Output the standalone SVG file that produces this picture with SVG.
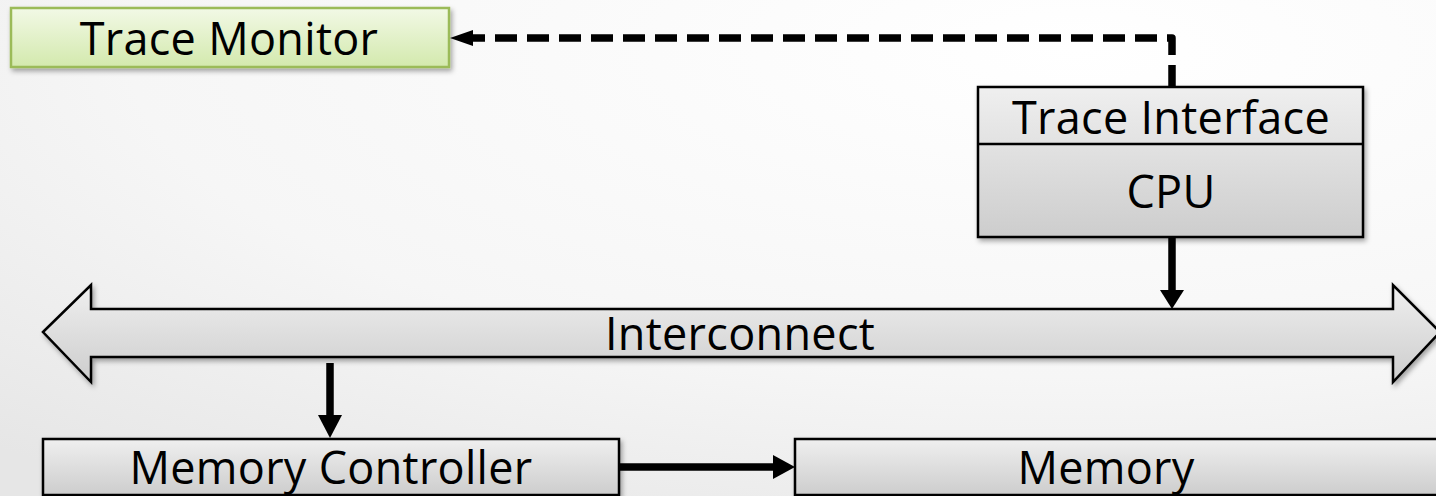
<svg xmlns="http://www.w3.org/2000/svg" width="1436" height="496" viewBox="0 0 1436 496">
  <defs>
    <radialGradient id="bg" cx="0.75" cy="0.1" r="1.1">
      <stop offset="0" stop-color="#ffffff"/>
      <stop offset="0.6" stop-color="#f6f6f6"/>
      <stop offset="1" stop-color="#e6e6e6"/>
    </radialGradient>
    <linearGradient id="gray" x1="0" y1="0" x2="0" y2="1">
      <stop offset="0" stop-color="#efefef"/>
      <stop offset="1" stop-color="#cdcdcd"/>
    </linearGradient>
    <linearGradient id="green" x1="0" y1="0" x2="0" y2="1">
      <stop offset="0" stop-color="#f2f9e6"/>
      <stop offset="1" stop-color="#d3e9ad"/>
    </linearGradient>
    <filter id="sh" x="-10%" y="-20%" width="120%" height="160%">
      <feDropShadow dx="2" dy="3" stdDeviation="2.5" flood-color="#000" flood-opacity="0.35"/>
    </filter>
  </defs>
  <style>
    .box { fill: url(#gray); stroke: #000; stroke-width: 2.5; filter: url(#sh); }
    .lbl { font-family: "Open Sans", "Noto Sans", sans-serif; font-size: 45px; font-weight: 400; letter-spacing: 0.3px; fill: #000; text-anchor: middle; }
    .conn { stroke: #000; stroke-width: 7.5; fill: none; }
    .head { fill: #000; stroke: none; }
  </style>
  <rect width="1436" height="496" fill="url(#bg)"/>

  <g id="trace-monitor">
    <rect x="11" y="8" width="438" height="59" fill="url(#green)" stroke="#9bbb59" stroke-width="2.5" filter="url(#sh)"/>
    <text class="lbl" x="229" y="55">Trace Monitor</text>
  </g>

  <g id="cpu">
    <rect class="box" x="978" y="87" width="385" height="150"/>
    <line x1="978" y1="144" x2="1363" y2="144" stroke="#000" stroke-width="2.5"/>
    <text class="lbl" x="1171" y="134">Trace Interface</text>
    <text class="lbl" x="1171" y="208">CPU</text>
  </g>

  <g id="interconnect">
    <path class="box" d="M43,332 L91,285 L91,309 L1393,309 L1393,285 L1440,332 L1393,382 L1393,357 L91,357 L91,382 Z"/>
    <text class="lbl" x="740" y="350">Interconnect</text>
  </g>

  <g id="memory-controller">
    <rect class="box" x="43" y="439" width="576" height="56"/>
    <text class="lbl" x="331" y="484">Memory Controller</text>
  </g>

  <g id="memory">
    <rect class="box" x="795" y="439" width="660" height="56"/>
    <text class="lbl" x="1106" y="484">Memory</text>
  </g>

  <g id="connectors">
    <path class="conn" d="M1172,87 L1172,38 L472,38" stroke-dasharray="22,10" stroke-linejoin="round"/>
    <polygon class="head" points="450,38 473,30 473,46"/>
    <line class="conn" x1="1172" y1="237" x2="1172" y2="291"/>
    <polygon class="head" points="1172,309 1160,290 1184,290"/>
    <line class="conn" x1="330" y1="363" x2="330" y2="416"/>
    <polygon class="head" points="330,438 318,415 342,415"/>
    <line class="conn" x1="619" y1="467" x2="774" y2="467"/>
    <polygon class="head" points="795,467 773,455 773,479"/>
  </g>
</svg>
